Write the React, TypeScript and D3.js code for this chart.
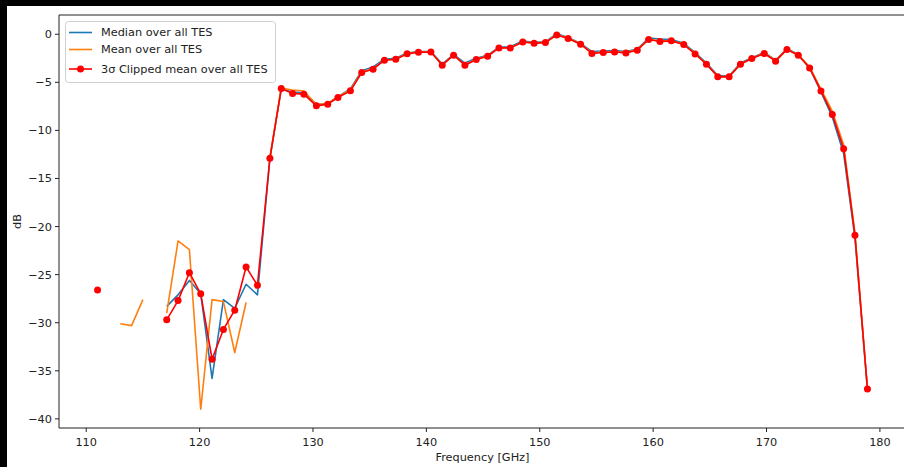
import React, { useEffect, useRef } from 'react';
import * as d3 from 'd3';

const W = 904;
const H = 467;

// frequency of each TES channel [GHz]
const freqs = [
  111.0, 112.0, 113.0, 114.0, 115.0, 116.0, 117.1, 118.1, 119.1, 120.1, 121.1, 122.1,
  123.1, 124.1, 125.1, 126.2, 127.2, 128.2, 129.2, 130.3, 131.3, 132.2, 133.3, 134.3,
  135.3, 136.3, 137.3, 138.3, 139.3, 140.4, 141.4, 142.4, 143.4, 144.4, 145.4, 146.4,
  147.4, 148.5, 149.5, 150.5, 151.5, 152.5, 153.6, 154.6, 155.6, 156.6, 157.6, 158.6,
  159.6, 160.6, 161.6, 162.7, 163.7, 164.7, 165.7, 166.7, 167.7, 168.7, 169.8, 170.8,
  171.8, 172.8, 173.8, 174.8, 175.8, 176.8, 177.8, 178.9,
];

const N = NaN;

const medianDb = [
  N, N, N, N, N, N, -28.3, -27.1, -25.6, -27.0, -35.8, -27.6,
  -28.5, -26.0, -27.1, -12.9, -5.7, -6.0, -6.1, -7.3, -7.2, -6.5, -5.7, -3.8,
  -3.4, -2.6, -2.5, -1.95, -1.8, -1.8, -3.1, -2.1, -3.0, -2.5, -2.2, -1.35,
  -1.3, -0.7, -0.85, -0.8, 0.05, -0.35, -0.95, -1.8, -1.75, -1.7, -1.8, -1.55,
  -0.4, -0.5, -0.55, -0.95, -1.9, -3.0, -4.3, -4.35, -3.0, -2.45, -1.9, -2.7,
  -1.5, -2.1, -3.5, -6.0, -8.6, -12.4, -21.2, -37.0,
];

const meanDb = [
  N, N, -30.1, -30.3, -27.6, N, -29.0, -21.5, -22.4, -39.0, -27.6, -27.8,
  -33.1, -27.9, N, -12.8, -5.6, -5.8, -5.9, -7.3, -7.2, -6.5, -5.8, -3.9,
  -3.6, -2.7, -2.6, -2.0, -1.85, -1.85, -3.2, -2.15, -3.2, -2.6, -2.25, -1.4,
  -1.4, -0.8, -0.9, -0.85, -0.05, -0.4, -1.0, -1.95, -1.85, -1.8, -1.9, -1.6,
  -0.5, -0.7, -0.65, -1.05, -2.0, -3.1, -4.4, -4.4, -3.1, -2.5, -1.95, -2.75,
  -1.55, -2.15, -3.4, -5.7, -8.0, -11.5, -20.7, -36.9,
];

const clippedDb = [
  -26.6, N, N, N, N, N, -29.7, -27.7, -24.8, -27.0, -33.8, -30.7,
  -28.7, -24.2, -26.1, -12.9, -5.65, -6.16, -6.23, -7.45, -7.27, -6.58, -5.89, -3.98,
  -3.64, -2.7, -2.6, -2.04, -1.87, -1.84, -3.22, -2.18, -3.22, -2.63, -2.29, -1.42,
  -1.42, -0.8, -0.94, -0.87, -0.07, -0.45, -1.04, -2.0, -1.9, -1.84, -1.94, -1.66,
  -0.55, -0.76, -0.69, -1.07, -2.05, -3.12, -4.43, -4.43, -3.12, -2.53, -2.0, -2.8,
  -1.58, -2.18, -3.5, -5.9, -8.34, -11.9, -20.9, -36.9,
];

const xTicks = [110, 120, 130, 140, 150, 160, 170, 180];
const yTicks = [0, -5, -10, -15, -20, -25, -30, -35, -40];

const series = [
  { name: 'Median over all TES', values: medianDb, color: '#1f77b4', marker: false },
  { name: 'Mean over all TES', values: meanDb, color: '#ff7f0e', marker: false },
  { name: '3σ Clipped mean over all TES', values: clippedDb, color: '#ff0000', marker: true },
];

const FONT = 'DejaVu Sans, sans-serif';

export default function App() {
  const svgRef = useRef<SVGSVGElement>(null);

  useEffect(() => {
    const svg = d3.select(svgRef.current);
    svg.selectAll('*').remove();

    // black frame of the screenshot
    svg.append('rect').attr('width', W).attr('height', H).attr('fill', '#000');
    svg.append('rect').attr('x', 7).attr('y', 6).attr('width', W - 7).attr('height', H - 6).attr('fill', '#fff');

    const left = 59, right = 906, top = 15, bottom = 428;

    const x = d3.scaleLinear().domain([107.6, 182.3]).range([left, right]);
    const y = d3.scaleLinear().domain([-40.95, 2.0]).range([bottom, top]);

    const g = svg.append('g');

    series.forEach((s) => {
      const pts = freqs.map((f, i) => [f, s.values[i]] as [number, number]);
      const line = d3
        .line<[number, number]>()
        .defined((d) => !isNaN(d[1]))
        .x((d) => x(d[0]))
        .y((d) => y(d[1]));
      g.append('path')
        .attr('d', line(pts))
        .attr('fill', 'none')
        .attr('stroke', s.color)
        .attr('stroke-width', 1.6)
        .attr('stroke-linejoin', 'round');
      if (s.marker) {
        g.selectAll(null)
          .data(pts.filter((d) => !isNaN(d[1])))
          .enter()
          .append('circle')
          .attr('cx', (d) => x(d[0]))
          .attr('cy', (d) => y(d[1]))
          .attr('r', 3.5)
          .attr('fill', s.color);
      }
    });

    // spines (right one falls just outside the picture)
    const spine = { stroke: '#222', 'stroke-width': 1 };
    const ln = (x1, y1, x2, y2) =>
      svg.append('line').attr('x1', x1).attr('y1', y1).attr('x2', x2).attr('y2', y2)
        .attr('stroke', spine.stroke).attr('stroke-width', spine['stroke-width']);
    ln(left, top, left, bottom);
    ln(left, bottom, right, bottom);
    ln(left, top, right, top);

    // x ticks
    xTicks.forEach((t) => {
      ln(x(t), bottom, x(t), bottom + 4);
      svg.append('text')
        .attr('x', x(t))
        .attr('y', bottom + 18)
        .attr('text-anchor', 'middle')
        .attr('font-family', FONT)
        .attr('font-size', 11.3)
        .attr('fill', '#222')
        .text(String(t));
    });

    // y ticks
    yTicks.forEach((t) => {
      ln(left - 4, y(t), left, y(t));
      svg.append('text')
        .attr('x', left - 7)
        .attr('y', y(t))
        .attr('dy', '0.35em')
        .attr('text-anchor', 'end')
        .attr('font-family', FONT)
        .attr('font-size', 11.3)
        .attr('fill', '#222')
        .text(t < 0 ? `\u2212${-t}` : String(t));
    });

    svg.append('text')
      .attr('x', (left + right) / 2)
      .attr('y', 461)
      .attr('text-anchor', 'middle')
      .attr('font-family', FONT)
      .attr('font-size', 11.3)
      .attr('fill', '#222')
      .text('Frequency [GHz]');

    svg.append('text')
      .attr('transform', `translate(21,${(top + bottom) / 2}) rotate(-90)`)
      .attr('text-anchor', 'middle')
      .attr('font-family', FONT)
      .attr('font-size', 11.3)
      .attr('fill', '#222')
      .text('dB');

    // legend
    const lg = svg.append('g');
    lg.append('rect')
      .attr('x', 65.5).attr('y', 21.5).attr('width', 210).attr('height', 61)
      .attr('rx', 3).attr('fill', '#fff').attr('fill-opacity', 0.85)
      .attr('stroke', '#d0d0d0');
    const rowY = [32.5, 49.5, 69];
    series.forEach((s, i) => {
      lg.append('line')
        .attr('x1', 69).attr('x2', 92).attr('y1', rowY[i]).attr('y2', rowY[i])
        .attr('stroke', s.color).attr('stroke-width', 1.6);
      if (s.marker) {
        lg.append('circle').attr('cx', 80.5).attr('cy', rowY[i]).attr('r', 3.5).attr('fill', s.color);
      }
      lg.append('text')
        .attr('x', 101)
        .attr('y', rowY[i])
        .attr('dy', '0.35em')
        .attr('font-family', FONT)
        .attr('font-size', 11.3)
        .attr('fill', '#222')
        .text(s.name);
    });
  }, []);

  return (
    <div style={{ position: 'fixed', left: 0, top: 0 }}>
      <svg ref={svgRef} width={W} height={H} style={{ display: 'block' }} />
    </div>
  );
}
